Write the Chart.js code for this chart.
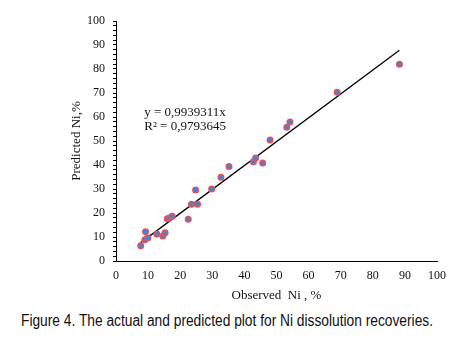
<!DOCTYPE html>
<html>
<head>
<meta charset="utf-8">
<script src="https://cdn.jsdelivr.net/npm/chart.js@4"></script>
<style>
  body { margin: 0; background: #fff; }
  #wrap { position: relative; width: 468px; height: 305px; }
  #caption {
    position: absolute; left: 21px; top: 312px;
    font-family: "Liberation Sans", Arimo, sans-serif;
    font-size: 16px; color: #111; white-space: nowrap;
    transform: scaleX(0.86); transform-origin: 0 0;
  }
</style>
</head>
<body>
<div id="wrap"><canvas id="my-chart" width="468" height="305"></canvas></div>
<div id="caption">Figure 4. The actual and predicted plot for Ni dissolution recoveries.</div>
<script>
// observed vs predicted Ni recoveries
const observedNi = [7.7, 9.0, 9.2, 9.9, 12.7, 14.6, 15.3, 16.0, 16.6, 17.5, 22.5, 23.5, 24.8, 25.4,
  29.8, 32.7, 35.2, 42.8, 43.5, 45.7, 48.0, 53.2, 54.2, 68.9, 88.3];
const predictedNi = [6.4, 8.9, 12.2, 9.6, 11.2, 10.4, 11.8, 17.6, 17.9, 18.6, 17.4, 23.6, 29.6, 23.6,
  30.0, 34.9, 39.4, 41.4, 42.9, 40.8, 50.4, 55.7, 57.9, 70.3, 82.0];

// ends of the fitted line y = 0,9939311x
const trendX = [7.7, 88.3];
const trendY = [7.65, 87.8];

const equationLines = ["y = 0,9939311x", "R\u00b2 = 0,9793645"];

const serif = "'Liberation Serif', 'DejaVu Serif', serif";

const points = observedNi.map((x, i) => ({ x, y: predictedNi[i] }));
const trend = trendX.map((x, i) => ({ x, y: trendY[i] }));

// writes the regression equation onto the plot
const equationLabel = {
  id: "equationLabel",
  afterDatasetsDraw(chart) {
    const { ctx, scales } = chart;
    ctx.save();
    ctx.font = "13px " + serif;
    ctx.fillStyle = "#111";
    ctx.textBaseline = "middle";
    const x0 = scales.x.getPixelForValue(8.8);
    ctx.fillText(equationLines[0], x0, scales.y.getPixelForValue(62.0));
    ctx.fillText(equationLines[1], x0, scales.y.getPixelForValue(56.2));
    ctx.restore();
  }
};

const ctx = document.getElementById("my-chart").getContext("2d");

new Chart(ctx, {
  type: "scatter",
  data: {
    datasets: [
      {
        label: "Trend",
        type: "line",
        data: trend,
        borderColor: "#000",
        borderWidth: 1.3,
        pointRadius: 0,
        fill: false,
        order: 2
      },
      {
        label: "Predicted",
        data: points,
        backgroundColor: "#3d85d8",
        borderColor: "#e8505a",
        borderWidth: 1.4,
        pointRadius: 2.8,
        order: 1
      }
    ]
  },
  options: {
    responsive: false,
    animation: false,
    layout: { padding: { left: 0, top: 21, right: 31, bottom: 0 } },
    plugins: { legend: { display: false }, tooltip: { enabled: false } },
    scales: {
      x: {
        type: "linear",
        min: 0,
        max: 100,
        afterFit: (s) => { s.height = 44; },
        grid: { display: false, drawOnChartArea: false, drawTicks: true, tickLength: 3, color: "#000" },
        border: { color: "#000", width: 1 },
        ticks: {
          stepSize: 2,
          autoSkip: false,
          maxRotation: 0,
          color: "#111",
          padding: 5,
          font: { family: serif, size: 12 },
          callback: (v) => (v % 10 === 0 ? v : "")
        },
        title: {
          display: true,
          text: "Observed  Ni , %",
          color: "#111",
          font: { family: serif, size: 13 },
          padding: { top: 0, bottom: 2 }
        }
      },
      y: {
        type: "linear",
        min: 0,
        max: 100,
        afterFit: (s) => { s.width = 116; },
        grid: { display: true, drawOnChartArea: false, drawTicks: true, tickLength: 3, color: "#000" },
        border: { color: "#000", width: 1 },
        ticks: {
          stepSize: 2,
          autoSkip: false,
          color: "#111",
          padding: 8,
          font: { family: serif, size: 12 },
          callback: (v) => (v % 10 === 0 ? v : "")
        },
        title: {
          display: true,
          text: "Predicted Ni,%",
          color: "#111",
          font: { family: serif, size: 13 },
          padding: { top: 69, bottom: 0 }
        }
      }
    }
  },
  plugins: [equationLabel]
});
</script>
</body>
</html>
